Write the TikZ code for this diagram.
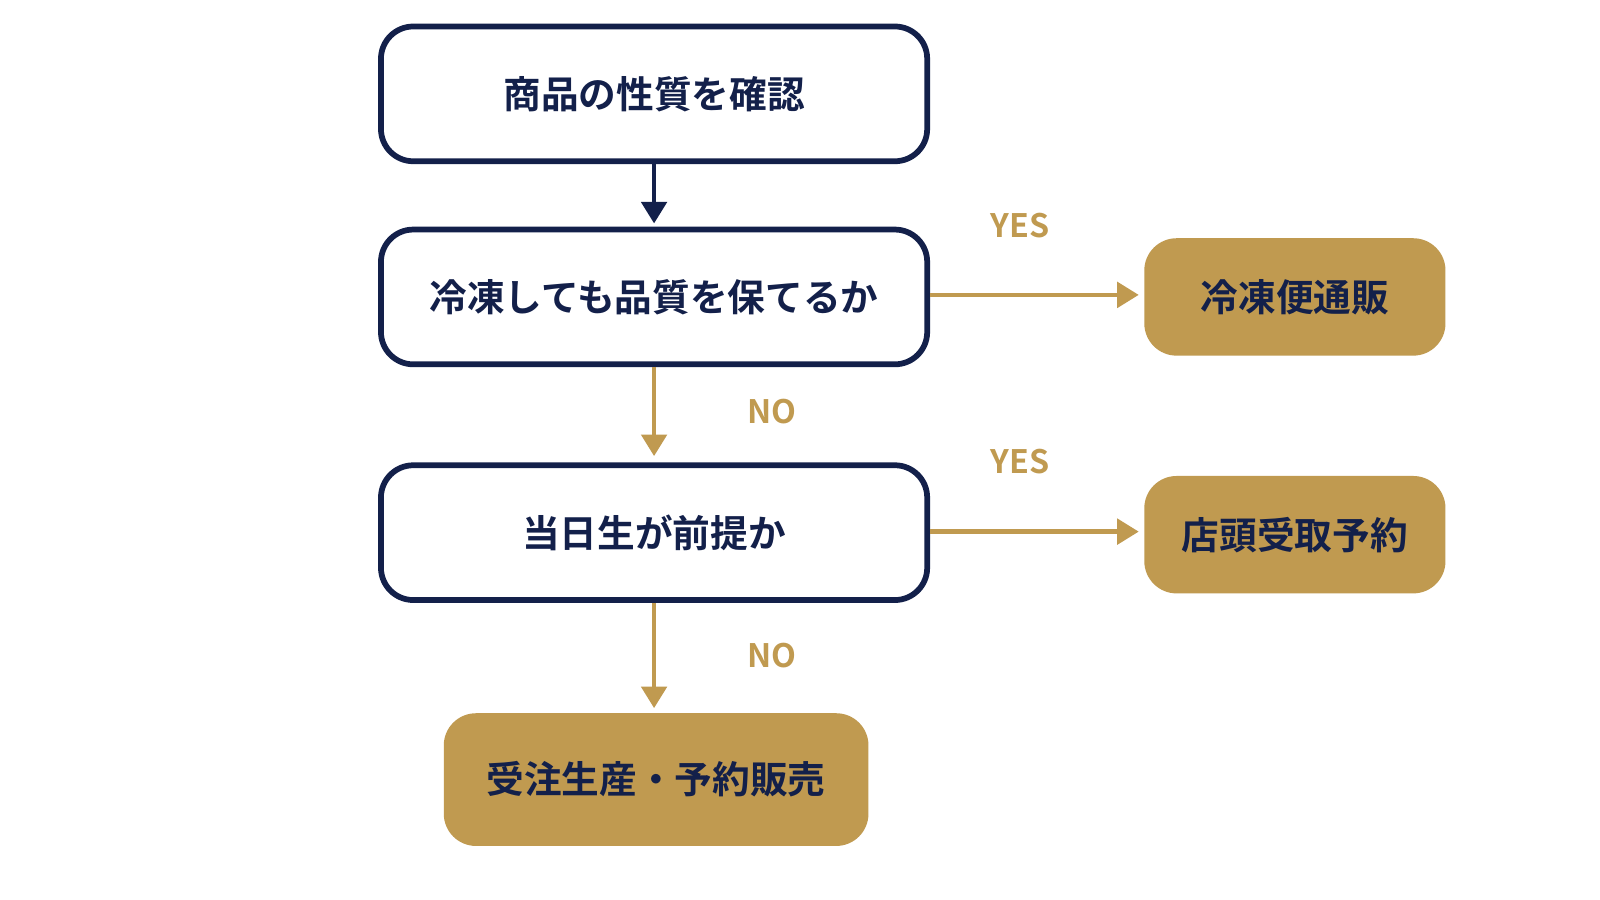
\documentclass[tikz,border=0pt]{standalone}
\usepackage{fontspec}
\setmainfont{Noto Sans CJK JP}[BoldFont={* Bold}]
\usetikzlibrary{arrows.meta}
\definecolor{navy}{HTML}{13204A}
\definecolor{gold}{HTML}{C09A50}
\tikzset{
  askbox/.style={draw=navy, line width=1.6pt, rounded corners=9pt, fill=white,
    minimum width=5.35cm, minimum height=1.32cm, font=\bfseries\fontsize{10.5}{12}\selectfont, text=navy},
  endbox/.style={fill=gold, rounded corners=9pt, minimum width=2.95cm,
    minimum height=1.15cm, font=\bfseries\fontsize{10.5}{12}\selectfont, text=navy},
  flow/.style={line width=1.3pt, -{Triangle[length=6pt,width=7pt]}},
  anno/.style={text=gold, font=\bfseries\fontsize{9}{10}\selectfont}
}
\begin{document}
\begin{tikzpicture}[x=0.01cm,y=-0.01cm]
    \useasboundingbox[fill=white] (0,0) rectangle (1568,882);
    \node[askbox] (check) at (641,92) {商品の性質を確認};
    \node[askbox] (freeze) at (641,291) {冷凍しても品質を保てるか};
    \node[askbox] (today) at (641,522) {当日生が前提か};
    \node[endbox] (mail) at (1269,291) {冷凍便通販};
    \node[endbox] (pickup) at (1269,524) {店頭受取予約};
    \node[endbox, minimum width=4.16cm, minimum height=1.3cm] (order) at (643,764) {受注生産・予約販売};

    \coordinate (c1) at (641,219);
    \coordinate (c2) at (641,447);
    \coordinate (c3) at (641,694);
    \coordinate (m1) at (1116,289);
    \coordinate (m2) at (1116,521);
    \draw[flow, navy] (check) -- (c1);
    \draw[flow, gold] (freeze.south) -- (c2) node[anno, midway, right=22pt] {NO};
    \draw[flow, gold] (today.south) -- (c3) node[anno, midway, right=22pt] {NO};
    \draw[flow, gold] (freeze.east |- m1) -- (m1) node[anno, pos=0.43, above=12pt] {YES};
    \draw[flow, gold] (today.east |- m2) -- (m2) node[anno, pos=0.43, above=12pt] {YES};
\end{tikzpicture}
\end{document}
